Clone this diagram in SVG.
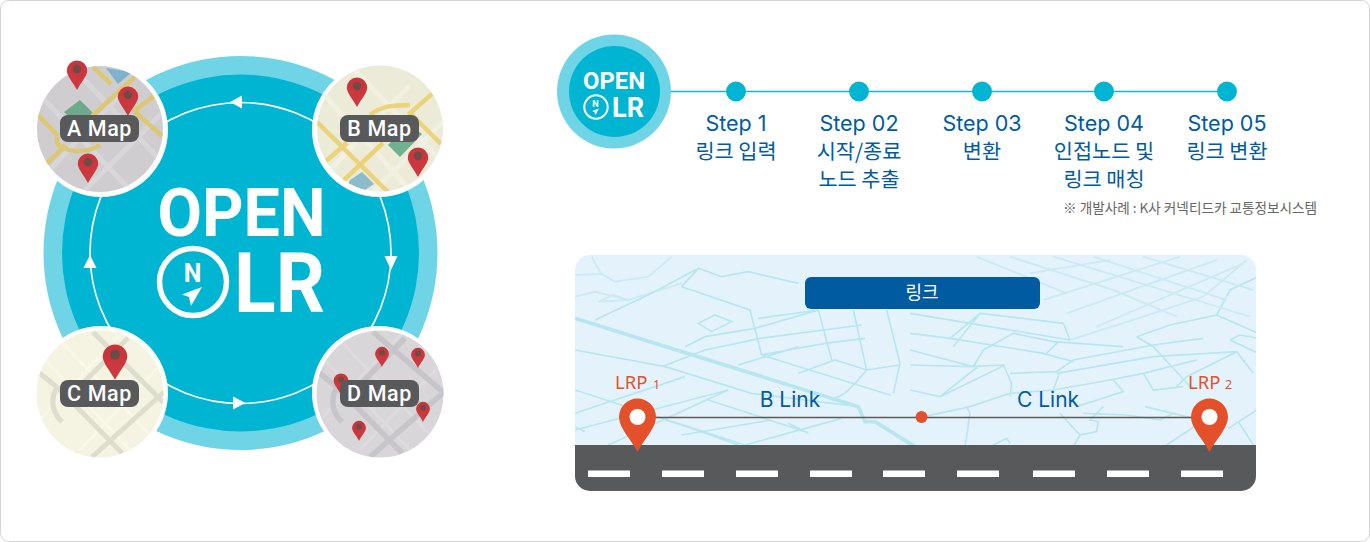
<svg xmlns="http://www.w3.org/2000/svg" width="1370" height="542" viewBox="0 0 1370 542">
<style>
text{font-family:"Noto Sans CJK KR","Noto Sans",sans-serif}
.lat{font-family:Inter,"Liberation Sans",sans-serif}
.din{font-family:Roboto,"Liberation Sans",sans-serif;font-weight:700;fill:#fff}
.step{font-size:21.500px;fill:#005ba1;text-anchor:middle}
.ko{font-size:20.800px;fill:#005ba1;text-anchor:middle}
.lbl{font-family:Roboto,"Liberation Sans",sans-serif;font-weight:500;font-size:21.500px;fill:#fff;text-anchor:middle;letter-spacing:.6px}
.tag{fill:#58595b}
.ring{fill:#fff}
.dot{fill:#00b5d2}
.dash{fill:#fff}
.yA{fill:none;stroke:#dcc772;stroke-width:4.500}
.yB{fill:none;stroke:#ead37a;stroke-width:4.500}
.gA{fill:none;stroke:#d8d6d8;stroke-width:5}
.gB{fill:none;stroke:#f2f1e1;stroke-width:5}
.gC{fill:none;stroke:#dedecf;stroke-width:5}
.gC2{fill:none;stroke:#f9f7e8;stroke-width:3}
.gD{fill:none;stroke:#c6c5ca;stroke-width:5.500}
.gD2{fill:none;stroke:#dddbdd;stroke-width:3}
.st{fill:none;stroke:#b8e6f0;stroke-width:5}
.st0{fill:none;stroke:#cdeaf4;stroke-width:6}
.st2{fill:none;stroke:#b8e6f0;stroke-width:11}
.wayc{fill:none;stroke:#fff;stroke-width:1.600}
.lrp{fill:#e4502a}
.lrpt{font-family:"Noto Sans","Liberation Sans",sans-serif;fill:#e4502a}
</style>
<defs>
<linearGradient id="pinG" x1="0" y1="0" x2="0" y2="1"><stop offset="0" stop-color="#c8343b"/><stop offset="1" stop-color="#cf3a3f"/></linearGradient>
<g id="pin"><path d="M0-10.500A10.200 10.200 0 0 1 10.200-.3C10.200 5 3.500 12 0 19C-3.500 12-10.200 5-10.200-.3A10.200 10.200 0 0 1 0-10.500Z" fill="url(#pinG)"/><circle cx="0" cy="-2" r="4.200" fill="#6d4b49"/></g>
<g id="lrpPin"><path d="M0-18.500A18.500 18.500 0 0 1 18.500 0C18.500 11 6 23 0 35C-6 23-18.500 11-18.500 0A18.500 18.500 0 0 1 0-18.500Z" class="lrp"/><circle cx="0" cy="0" r="8" fill="#fff"/></g>
<g id="compass"><circle cx="0" cy="0" r="33.500" fill="none" stroke="#fff" stroke-width="5.500"/><path d="M9 5L-11 12.500L-4 15L-2 24Z" fill="#fff"/></g>
<clipPath id="cA"><circle cx="100" cy="129" r="63"/></clipPath>
<clipPath id="cB"><circle cx="380" cy="128.500" r="63"/></clipPath>
<clipPath id="cC"><circle cx="100" cy="394" r="63.500"/></clipPath>
<clipPath id="cD"><circle cx="380" cy="394" r="63.500"/></clipPath>
<clipPath id="cP"><rect x="575" y="255" width="681" height="236" rx="15"/></clipPath>
</defs>
<rect x=".5" y=".5" width="1369" height="541" rx="8" fill="#fff" stroke="#d4d4d4"/>

<g id="open-olr-hub">
<circle cx="240.500" cy="253" r="197" fill="#6fd5e6"/>
<circle cx="240.500" cy="253" r="178.500" fill="#00b5d2"/>
<text class="din" x="241.500" y="236" font-size="67" text-anchor="middle" textLength="168" lengthAdjust="spacingAndGlyphs">OPEN</text>
<use href="#compass" x="193" y="282"/>
<text class="din" x="192.500" y="281.500" font-size="25" font-weight="500" text-anchor="middle">N</text>
<text class="din" x="279.500" y="312" font-size="83" text-anchor="middle" textLength="91" lengthAdjust="spacingAndGlyphs">LR</text>
</g>

<g id="connectors">
<circle class="wayc" cx="240.500" cy="253" r="150.500"/>
<path fill="#fff" d="M230 102L242 95.500V108.500Z"/>
<path fill="#fff" d="M391 270L384.500 256H397.500Z"/>
<path fill="#fff" d="M245.500 403L233 396.500V409.500Z"/>
<path fill="#fff" d="M90 255L83.500 268H96.500Z"/>
</g>

<g id="a-map">
<circle class="ring" cx="101" cy="130" r="67"/>
<g clip-path="url(#cA)">
<rect x="30" y="60" width="140" height="140" fill="#cfcdd0"/>
<path class="gA" d="M40 95L130 190M75 70L160 160M45 175L125 90M85 190L165 110"/>
<path fill="#6fa98c" d="M80 100L93 113L80 126L64 112Z"/>
<path fill="#7fb2cc" d="M106 68L132 72L118 84Z"/>
<path class="yA" d="M37 114L58 136M93 67L111 84M135 77L92 116M133 110L162 136M154 96L133 112M46 164L64 147C70 153 90 152 100 145M58 136C55 142 58 147 64 147"/>
</g>
<use href="#pin" transform="translate(77 71)"/>
<use href="#pin" transform="translate(128 97)"/>
<use href="#pin" transform="translate(88 164)"/>
<rect class="tag" x="60" y="115" width="79" height="27" rx="8"/>
<text class="lbl" x="99.500" y="136">A Map</text>
</g>

<g id="b-map">
<circle class="ring" cx="379" cy="130" r="67"/>
<g clip-path="url(#cB)">
<rect x="310" y="60" width="140" height="140" fill="#ecebd7"/>
<path class="gB" d="M320 90L410 190M355 70L440 160M325 175L410 85M370 195L445 120"/>
<path fill="#70b190" d="M388 145L400 157L422 134L408 124Z"/>
<path fill="#8cbccb" d="M350 180L362 172L374 184L362 192H345Z"/>
<path class="yB" d="M317 122L388 192M326 161L347 143M343 181L383 143M432 94L410 113L441 144M370 115C380 106 395 105 410 105"/>
</g>
<use href="#pin" transform="translate(357 88)"/>
<use href="#pin" transform="translate(418 158)"/>
<rect class="tag" x="340" y="115" width="79" height="27" rx="8"/>
<text class="lbl" x="379.500" y="136">B Map</text>
</g>

<g id="c-map">
<circle class="ring" cx="101" cy="393" r="67"/>
<g clip-path="url(#cC)">
<rect x="30" y="325" width="140" height="140" fill="#f5f3e1"/>
<path class="gC2" d="M45 360L130 450M60 340L155 440M40 420L120 335M80 450L160 365"/>
<path class="gC" d="M93 332L164 403M128 338L62 404M38 372L57 387L122 453M164 392L92 457M57 387C50 400 52 412 62 422"/>
</g>
<use href="#pin" transform="translate(115 357) scale(1.200)"/>
<rect class="tag" x="60" y="380" width="79" height="27" rx="8"/>
<text class="lbl" x="99.500" y="401">C Map</text>
</g>

<g id="d-map">
<circle class="ring" cx="379" cy="393" r="67"/>
<g clip-path="url(#cD)">
<rect x="310" y="325" width="140" height="140" fill="#d8d6d8"/>
<path class="gD2" d="M325 360L410 450M340 340L435 440M320 420L400 335M360 450L440 365"/>
<path class="gD" d="M373 332L444 393M405 338L342 404M318 372L337 387L402 453M444 392L370 457M337 387C330 400 332 412 342 422"/>
</g>
<use href="#pin" transform="translate(382 354) scale(.68)"/>
<use href="#pin" transform="translate(418 355) scale(.68)"/>
<use href="#pin" transform="translate(341 381) scale(.72)"/>
<use href="#pin" transform="translate(423 409) scale(.68)"/>
<use href="#pin" transform="translate(359 428) scale(.68)"/>
<rect class="tag" x="340" y="380" width="79" height="27" rx="8"/>
<text class="lbl" x="379.500" y="401">D Map</text>
</g>

<g id="steps-connector"><path d="M671 91.500H1227" stroke="#17b6d3" stroke-width="1.500" fill="none"/></g>

<g id="open-olr-logo">
<circle cx="614" cy="91.500" r="57" fill="#6fd5e6"/>
<circle cx="614.500" cy="91.500" r="45.500" fill="#00b5d2"/>
<text class="din" x="614" y="89" font-size="24" font-weight="500" text-anchor="middle" textLength="62" lengthAdjust="spacingAndGlyphs">OPEN</text>
<circle cx="596" cy="107" r="11.700" fill="none" stroke="#fff" stroke-width="2"/>
<text class="din" x="595.500" y="107" font-size="9" font-weight="500" text-anchor="middle">N</text>
<path d="M599 108.500L592 111L594.500 112L595.500 115Z" fill="#fff"/>
<text class="din" x="628" y="117" font-size="27" font-weight="500" text-anchor="middle" textLength="32" lengthAdjust="spacingAndGlyphs">LR</text>
</g>

<g id="step-1"><circle class="dot" cx="736" cy="91.500" r="10"/><text class="step lat" x="736" y="131">Step 1</text><text class="ko" x="736" y="159">링크 입력</text></g>
<g id="step-2"><circle class="dot" cx="859" cy="91.500" r="10"/><text class="step lat" x="859" y="131">Step 02</text><text class="ko" x="859" y="159">시작/종료</text><text class="ko" x="859" y="187">노드 추출</text></g>
<g id="step-3"><circle class="dot" cx="982" cy="91.500" r="10"/><text class="step lat" x="982" y="131">Step 03</text><text class="ko" x="982" y="159">변환</text></g>
<g id="step-4"><circle class="dot" cx="1104" cy="91.500" r="10"/><text class="step lat" x="1104" y="131">Step 04</text><text class="ko" x="1104" y="159">인접노드 및</text><text class="ko" x="1104" y="187">링크 매칭</text></g>
<g id="step-5"><circle class="dot" cx="1227" cy="91.500" r="10"/><text class="step lat" x="1227" y="131">Step 05</text><text class="ko" x="1227" y="159">링크 변환</text></g>
<text x="1190" y="213" font-size="13.600" fill="#666" text-anchor="middle">※ 개발사례 : K사 커넥티드카 교통정보시스템</text>

<g id="link-panel">
<g clip-path="url(#cP)">
<rect x="575" y="255" width="681" height="236" fill="#e4f3fb"/>
<g transform="translate(565 250) scale(.33333)">
<path class="st0" d="M30 75L110 72L150 95L250 80L320 20M80 20L110 75M30 140L90 125L190 150L350 100M100 155L145 135L190 150Z"/>
<path class="st2" d="M30 205L880 470L900 515L930 515L1050 590"/>
<path class="st" d="M350 110L400 55L470 80L550 65L700 100M350 110L555 180L590 315M400 220L450 195L500 215L440 245ZM90 210L260 130L400 55M360 290L420 260L570 235L760 180M580 205L760 180M585 265L890 225M590 315L780 280L900 265M760 180L800 330M865 180L905 360L870 400L840 430L800 450M965 180L1005 340L985 430M590 315L975 435M520 345L700 290M700 370L810 330L905 360L1005 345M30 300L300 350L560 430L880 470M290 350L420 300L585 265M30 420L540 585M30 490L360 380M30 540L490 420M130 585L490 420M280 500L520 585M300 510L540 585L830 505M430 450L720 545M670 520L730 550M350 555L620 510M30 530L60 545"/>
</g>
<g transform="translate(910 250) scale(.33333)">
<path class="st" d="M0 190L480 270L460 220M0 250L120 265L400 310L490 335M130 290L210 190L460 220M120 265L210 190M220 300L310 250L430 275L640 290M405 315L445 275M0 300L190 350L220 300M0 345L180 350L280 345L305 400L300 440M0 420L90 440L210 345M90 440L285 345M300 370L440 365L490 330L730 285M440 370L730 320L980 305L1030 370M450 365L430 420L300 430L180 470L40 500M430 420L600 390L700 370L860 330M610 390L640 425L500 470M700 370L730 420L820 410M800 410L830 380L980 305M580 470L540 510L565 515L560 545L510 555L490 590M450 490L510 555M170 470L180 490L165 590M240 590L290 565L300 580M520 490L650 495L750 510L790 490L850 505M705 470L850 505M770 585L860 525M955 535L1040 480M985 515L1030 585M680 260L730 290L850 420M680 260L780 225L920 195L960 120L1045 80M730 285L880 265M960 270L990 255L1045 265M960 270L1045 310M920 195L1045 250"/>
<path class="st0" d="M480 270L700 200L880 140L1010 30M300 20L610 120L800 200M430 20L1020 200M550 20L950 150M700 20L1030 120M400 150L810 20M470 190L920 30M560 230L1000 40M200 20L470 130M360 70L600 30"/>
</g>
<rect x="575" y="445" width="681" height="46" fill="#58595b"/>
</g>
<rect class="dash" x="588" y="470.500" width="42" height="6.500"/>
<rect class="dash" x="662" y="470.500" width="42" height="6.500"/>
<rect class="dash" x="736" y="470.500" width="42" height="6.500"/>
<rect class="dash" x="810" y="470.500" width="42" height="6.500"/>
<rect class="dash" x="883" y="470.500" width="42" height="6.500"/>
<rect class="dash" x="957" y="470.500" width="42" height="6.500"/>
<rect class="dash" x="1033" y="470.500" width="42" height="6.500"/>
<rect class="dash" x="1107" y="470.500" width="42" height="6.500"/>
<rect class="dash" x="1181" y="470.500" width="42" height="6.500"/>
<rect x="805" y="277" width="235" height="32" rx="6" fill="#005ba1"/>
<text x="922" y="299" font-size="18" fill="#fff" text-anchor="middle">링크</text>
</g>

<g id="link-line"><path d="M650 417.500H1195" stroke="#5a5a5a" stroke-width="1.500" fill="none"/></g>
<g id="lrp-1"><use href="#lrpPin" x="637.500" y="417"/><text class="lrpt" x="615" y="389" font-size="18.500">LRP</text><text class="lrpt" x="653" y="389" font-size="12.500">1</text></g>
<g id="mid-node"><circle class="lrp" cx="921.500" cy="417" r="6"/></g>
<g id="lrp-2"><use href="#lrpPin" x="1209.500" y="417"/><text class="lrpt" x="1188" y="389" font-size="18.500">LRP</text><text class="lrpt" x="1225" y="389" font-size="12.500">2</text></g>
<text class="lat" x="790" y="407" font-size="21" fill="#005ba1" text-anchor="middle">B Link</text>
<text class="lat" x="1048" y="407" font-size="21" fill="#005ba1" text-anchor="middle">C Link</text>
</svg>
